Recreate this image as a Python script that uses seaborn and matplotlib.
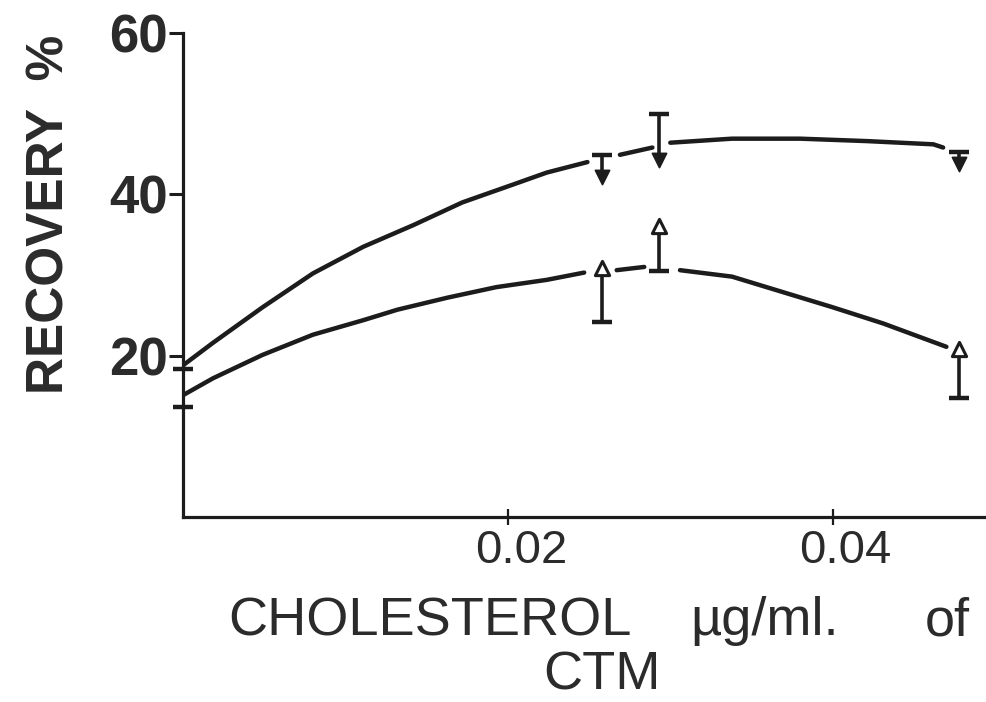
import numpy as np
import pandas as pd
import matplotlib
matplotlib.use("Agg")
import matplotlib.pyplot as plt
from matplotlib.transforms import ScaledTranslation
import seaborn as sns

# Smooth curves drawn through the recovery data (cholesterol µg/ml of CTM)
upper_curve_x = [0.0, 0.00185, 0.0049, 0.0080, 0.0111, 0.0142, 0.0172, 0.0203,
                 0.0224, 0.0249, 0.0269, 0.0289, 0.0300, 0.0338, 0.0380, 0.0421,
                 0.0462, 0.0468]
upper_curve_y = [18.8, 21.6, 26.0, 30.2, 33.5, 36.2, 39.0, 41.2,
                 42.7, 44.0, 44.9, 45.8, 46.4, 46.9, 46.9, 46.6,
                 46.2, 45.8]
lower_curve_x = [0.0, 0.00185, 0.0049, 0.0080, 0.0111, 0.0132, 0.0163, 0.0193,
                 0.0224, 0.0247, 0.0267, 0.0284, 0.0306, 0.0338, 0.0369, 0.0400,
                 0.0431, 0.0470]
lower_curve_y = [15.1, 17.2, 20.1, 22.6, 24.4, 25.7, 27.2, 28.5,
                 29.4, 30.3, 30.6, 31.0, 30.6, 29.8, 27.9, 26.0,
                 24.0, 21.1]

# Measured points: mean recovery and the end of each one-sided error bar
dose = [0.0258, 0.0293, 0.0478]
upper_mean = [42.1, 44.2, 43.7]
upper_cap = [44.9, 49.9, 45.3]
lower_mean = [30.9, 36.1, 20.8]
lower_cap = [24.2, 30.5, 14.8]

# Error-bar ends at zero cholesterol
zero_caps = [18.4, 13.6]

y_ticks = [20, 40, 60]
x_ticks = [0.02, 0.04]
x_tick_labels = ["0.02", "0.04"]

INK = "#1c1c1c"
TEXT = "#2b2b2b"

sns.set_theme(style="white")
plt.rcParams["font.family"] = ["Liberation Sans", "DejaVu Sans"]

fig = plt.figure(figsize=(9.87, 7.02), dpi=100)
ax = fig.add_axes([0.1854, 0.2635, 0.8146, 0.6895])


def curve_frame(xs, ys):
    df = pd.DataFrame({"x": xs, "y": ys})
    # break the drawn curve wherever a measured point sits on it
    df["seg"] = np.searchsorted(dose, df["x"].to_numpy())
    return df


for cx, cy in [(upper_curve_x, upper_curve_y), (lower_curve_x, lower_curve_y)]:
    sns.lineplot(data=curve_frame(cx, cy), x="x", y="y", units="seg",
                 estimator=None, sort=False, color=INK, linewidth=3.2,
                 ax=ax, legend=False)

# error bars: stems then caps
ax.vlines(dose, upper_mean, upper_cap, color=INK, linewidth=2.6, zorder=3)
ax.vlines(dose, lower_mean, lower_cap, color=INK, linewidth=2.6, zorder=3)
cap_x = dose + dose + [0.0, 0.0]
cap_y = upper_cap + lower_cap + zero_caps
sns.scatterplot(x=cap_x, y=cap_y, marker="_", s=210, linewidth=3.2,
                color=INK, ax=ax, zorder=3, clip_on=False, legend=False)

# means
sns.scatterplot(x=dose, y=upper_mean, marker="v", s=105, color=INK,
                edgecolor=INK, linewidth=1.2, ax=ax, zorder=4, clip_on=False)
sns.scatterplot(x=dose, y=lower_mean, marker="^", s=105, facecolor="white",
                edgecolor=INK, linewidth=2.2, ax=ax, zorder=4, clip_on=False)

ax.set_xlim(0, 0.0495)
ax.set_ylim(0, 60)
sns.despine(ax=ax)
for side in ["left", "bottom"]:
    ax.spines[side].set_linewidth(2.3)
    ax.spines[side].set_color(INK)

ax.set_yticks(y_ticks)
ax.set_yticklabels([str(v) for v in y_ticks], fontsize=38, fontweight="bold",
                   color=TEXT)
ax.tick_params(axis="y", direction="out", length=10, width=2.2, color=INK,
               pad=1, left=True)
ax.set_xticks(x_ticks)
ax.set_xticklabels(x_tick_labels, fontsize=34, color=TEXT)
ax.tick_params(axis="x", direction="inout", length=11, width=1.6, color=INK,
               pad=3, bottom=True)
shift = ScaledTranslation(13 / 100, 0, fig.dpi_scale_trans)
for lbl in ax.get_xticklabels():
    lbl.set_transform(lbl.get_transform() + shift)
ax.set_xlabel("")
ax.set_ylabel("")

fig.text(50 / 987, 1 - 214 / 702, "RECOVERY  %", rotation=90, ha="center",
         va="center", fontsize=37, fontweight="bold", color=TEXT)
fig.text(228 / 987, 1 - 621 / 702, "CHOLESTEROL", ha="left", va="center",
         fontsize=39, color=TEXT)
fig.text(690 / 987, 1 - 621 / 702, "µg/ml.", ha="left", va="center",
         fontsize=39, color=TEXT)
fig.text(970 / 987, 1 - 621 / 702, "of", ha="right", va="center",
         fontsize=39, color=TEXT)
fig.text(602 / 987, 1 - 675 / 702, "CTM", ha="center", va="center",
         fontsize=39, color=TEXT)

fig.savefig("out.png", dpi=100, facecolor="white")
